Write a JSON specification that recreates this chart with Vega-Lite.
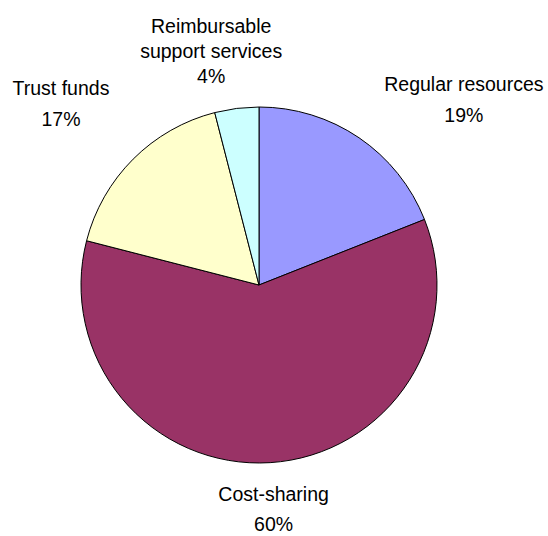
{
  "$schema": "https://vega.github.io/schema/vega-lite/v6.json",
  "width": 518,
  "height": 502,
  "autosize": "none",
  "padding": {"left": 0, "top": 34, "right": 30, "bottom": 0},
  "background": "white",
  "config": {"view": {"stroke": null}},
  "data": {
    "values": [
      {"idx": 1, "category": "Regular resources", "label": "Regular resources\n19%", "value": 19},
      {"idx": 2, "category": "Cost-sharing", "label": "Cost-sharing\n60%", "value": 60},
      {"idx": 3, "category": "Trust funds", "label": "Trust funds\n17%", "value": 17},
      {"idx": 4, "category": "Reimbursable support services", "label": "Reimbursable\nsupport services\n4%", "value": 4}
    ]
  },
  "encoding": {
    "theta": {"field": "value", "type": "quantitative", "stack": true},
    "order": {"field": "idx", "type": "quantitative"}
  },
  "layer": [
    {
      "mark": {"type": "arc", "radius": 178, "stroke": "black", "strokeWidth": 1},
      "encoding": {
        "color": {
          "field": "category",
          "type": "nominal",
          "scale": {
            "domain": ["Regular resources", "Cost-sharing", "Trust funds", "Reimbursable support services"],
            "range": ["#9999FF", "#993366", "#FFFFCC", "#CCFFFF"]
          },
          "legend": null
        }
      }
    },
    {
      "mark": {"type": "text", "radius": 234.6, "dx": 73, "lineBreak": "\n", "lineHeight": 31, "fontSize": 19.5, "font": "Liberation Sans", "baseline": "alphabetic", "align": "center", "color": "black"},
      "encoding": {"text": {"condition": {"test": "datum.category === 'Regular resources'", "field": "label", "type": "nominal"}, "value": ""}}
    },
    {
      "mark": {"type": "text", "radius": 216.5, "dx": 1, "lineBreak": "\n", "lineHeight": 30, "fontSize": 19.5, "font": "Liberation Sans", "baseline": "alphabetic", "align": "center", "color": "black"},
      "encoding": {"text": {"condition": {"test": "datum.category === 'Cost-sharing'", "field": "label", "type": "nominal"}, "value": ""}}
    },
    {
      "mark": {"type": "text", "radius": 268.7, "dx": -8, "lineBreak": "\n", "lineHeight": 31, "fontSize": 19.5, "font": "Liberation Sans", "baseline": "alphabetic", "align": "center", "color": "black"},
      "encoding": {"text": {"condition": {"test": "datum.category === 'Trust funds'", "field": "label", "type": "nominal"}, "value": ""}}
    },
    {
      "mark": {"type": "text", "radius": 254, "dx": -16, "lineBreak": "\n", "lineHeight": 25, "fontSize": 19.5, "font": "Liberation Sans", "baseline": "alphabetic", "align": "center", "color": "black"},
      "encoding": {"text": {"condition": {"test": "datum.category === 'Reimbursable support services'", "field": "label", "type": "nominal"}, "value": ""}}
    }
  ]
}
